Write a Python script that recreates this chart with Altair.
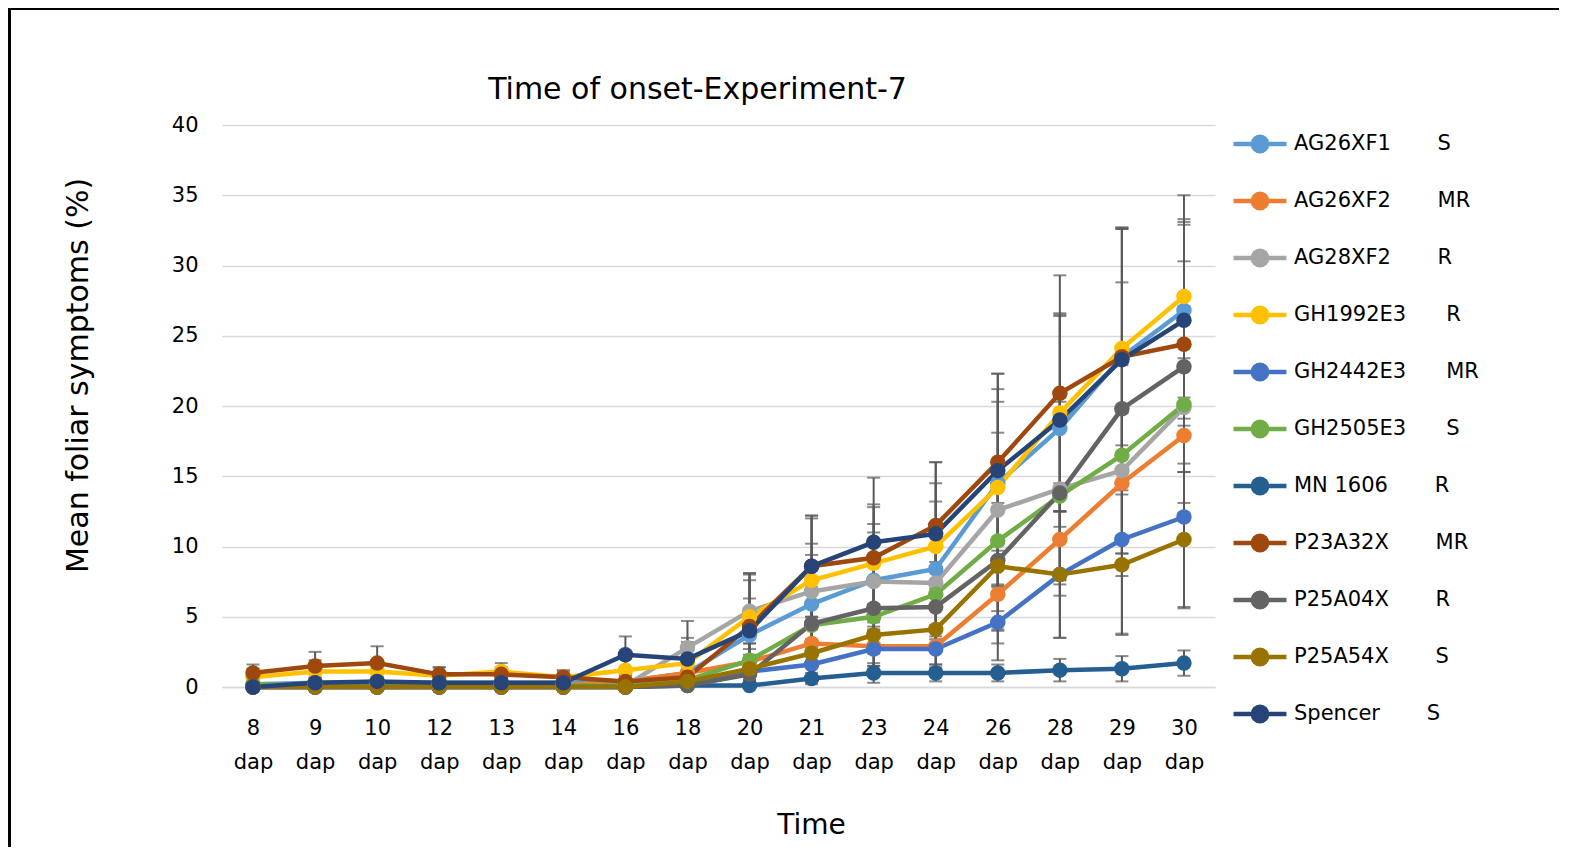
import altair as alt
import pandas as pd

times = ["8", "9", "10", "12", "13", "14", "16", "18", "20", "21", "23", "24", "26", "28", "29", "30"]
series = ["AG26XF1", "AG26XF2", "AG28XF2", "GH1992E3", "GH2442E3", "GH2505E3",
          "MN 1606", "P23A32X", "P25A04X", "P25A54X", "Spencer"]
ratings = ["S", "MR", "R", "R", "MR", "S", "R", "MR", "R", "S", "S"]
colors = ["#5B9BD5", "#ED7D31", "#A5A5A5", "#FFC000", "#4472C4", "#70AD47",
          "#255E91", "#9E480E", "#636363", "#997300", "#264478"]

ag26xf1 = [0.2, 0.3, 0.3, 0.3, 0.3, 0.3, 0.4, 1.0, 3.7, 5.9, 7.6, 8.4, 14.5, 18.4, 23.5, 26.8]
ag26xf2 = [0.1, 0.1, 0.1, 0.1, 0.1, 0.1, 0.4, 1.0, 1.8, 3.1, 2.9, 2.9, 6.6, 10.5, 14.5, 17.9]
ag28xf2 = [0.0, 0.0, 0.0, 0.0, 0.0, 0.0, 0.1, 2.8, 5.4, 6.8, 7.5, 7.4, 12.6, 14.1, 15.4, 19.9]
gh1992e3 = [0.7, 1.1, 1.1, 0.8, 1.1, 0.7, 1.2, 1.7, 5.0, 7.6, 8.8, 10.0, 14.2, 19.5, 24.1, 27.8]
gh2442e3 = [0.0, 0.0, 0.0, 0.0, 0.0, 0.0, 0.0, 0.2, 1.1, 1.6, 2.7, 2.7, 4.6, 8.0, 10.5, 12.1]
gh2505e3 = [0.2, 0.1, 0.1, 0.1, 0.1, 0.1, 0.1, 0.5, 1.9, 4.4, 5.0, 6.6, 10.4, 13.6, 16.5, 20.1]
mn1606 = [0.0, 0.0, 0.0, 0.0, 0.0, 0.0, 0.0, 0.1, 0.1, 0.6, 1.0, 1.0, 1.0, 1.2, 1.3, 1.7]
p23a32x = [1.0, 1.5, 1.7, 0.9, 0.9, 0.7, 0.4, 0.7, 4.3, 8.6, 9.2, 11.5, 16.0, 20.9, 23.5, 24.4]
p25a04x = [0.0, 0.0, 0.0, 0.0, 0.0, 0.0, 0.0, 0.1, 0.9, 4.5, 5.6, 5.7, 9.0, 13.8, 19.8, 22.8]
p25a54x = [0.0, 0.0, 0.0, 0.0, 0.0, 0.0, 0.0, 0.4, 1.3, 2.4, 3.7, 4.1, 8.6, 8.0, 8.7, 10.5]
spencer = [0.0, 0.3, 0.4, 0.3, 0.3, 0.3, 2.3, 2.0, 4.0, 8.6, 10.3, 10.9, 15.4, 19.0, 23.3, 26.1]

err_ag26xf1 = [0.3, 0.4, 0.4, 0.3, 0.3, 0.3, 0.5, 1.2, 2.6, 3.5, 4.0, 4.8, 5.8, 8.0, 9.2, 6.5]
err_ag26xf2 = [0.2, 0.2, 0.2, 0.2, 0.2, 0.2, 0.5, 1.0, 1.3, 1.6, 1.4, 1.5, 3.5, 4.0, 5.0, 5.5]
err_ag28xf2 = [0.0, 0.0, 0.0, 0.0, 0.0, 0.0, 0.2, 1.9, 2.7, 3.4, 3.5, 3.5, 5.5, 6.5, 7.5, 8.0]
err_gh1992e3 = [0.6, 0.8, 0.8, 0.6, 0.6, 0.5, 0.8, 1.5, 3.0, 4.4, 4.2, 4.5, 7.0, 7.0, 8.5, 7.2]
err_gh2442e3 = [0.0, 0.0, 0.0, 0.0, 0.0, 0.0, 0.0, 0.3, 0.9, 1.2, 1.4, 1.4, 2.7, 4.5, 6.7, 6.5]
err_gh2505e3 = [0.2, 0.1, 0.1, 0.1, 0.1, 0.1, 0.2, 0.6, 1.2, 2.2, 2.6, 3.2, 5.0, 6.0, 7.0, 7.0]
err_mn1606 = [0.0, 0.0, 0.0, 0.0, 0.0, 0.0, 0.0, 0.1, 0.2, 0.4, 0.7, 0.6, 0.6, 0.8, 0.9, 0.9]
err_p23a32x = [0.6, 1.0, 1.2, 0.5, 0.5, 0.4, 0.4, 0.8, 3.8, 3.6, 3.6, 4.5, 6.3, 8.4, 9.2, 8.5]
err_p25a04x = [0.0, 0.0, 0.0, 0.0, 0.0, 0.0, 0.0, 0.2, 0.9, 2.6, 3.2, 3.2, 5.0, 6.5, 9.0, 7.5]
err_p25a54x = [0.0, 0.0, 0.0, 0.0, 0.0, 0.0, 0.0, 0.4, 1.0, 1.7, 2.2, 2.5, 4.5, 4.5, 5.0, 4.8]
err_spencer = [0.0, 0.3, 0.3, 0.3, 0.3, 0.3, 1.3, 1.5, 3.6, 3.6, 4.6, 5.1, 6.9, 7.6, 9.3, 7.0]

means = [ag26xf1, ag26xf2, ag28xf2, gh1992e3, gh2442e3, gh2505e3, mn1606, p23a32x, p25a04x, p25a54x, spencer]
errs = [err_ag26xf1, err_ag26xf2, err_ag28xf2, err_gh1992e3, err_gh2442e3, err_gh2505e3,
        err_mn1606, err_p23a32x, err_p25a04x, err_p25a54x, err_spencer]

NB = "\u00a0"
labels = [name + NB * max(3, 14 - len(name)) + r for name, r in zip(series, ratings)]

rows = []
for i, (lab, m, e) in enumerate(zip(labels, means, errs)):
    for j, t in enumerate(times):
        rows.append({"time": t, "series": lab, "order": i, "tidx": j,
                     "mean": m[j], "lo": m[j] - e[j], "hi": m[j] + e[j], "err": e[j]})
df = pd.DataFrame(rows)

FONT = "DejaVu Sans"
W, H = 993, 562
PAD = {"left": 214, "top": 117, "right": 354, "bottom": 170}

x_enc = alt.X("time:N", sort=times, title="Time",
              scale=alt.Scale(type="point", padding=0.5),
              axis=alt.Axis(labelExpr="[datum.label, 'dap']", labelAngle=0, labelFontSize=21,
                            labelLineHeight=34, labelPadding=30, ticks=False,
                            domain=True, domainColor="#D9D9D9", domainWidth=1.5,
                            grid=False, titleFontSize=28, titleFontWeight="normal",
                            titleX=589, titleY=138, titleBaseline="middle",
                            labelColor="#000000", titleColor="#000000"))
y_scale = alt.Scale(domain=[0, 40], nice=False)

path = ("M-1,0L1,0M-0.27,0A0.27,0.27 0 1,0 0.27,0A0.27,0.27 0 1,0 -0.27,0Z")

legend_kw = dict(title=None, orient="none", legendX=1009, legendY=-10,
                 symbolType=path, symbolSize=2800, symbolStrokeWidth=4.5,
                 labelFontSize=21, labelFont=FONT, labelOffset=5,
                 rowPadding=11, labelLimit=400, labelColor="#000000")

stroke_enc = alt.Stroke("series:N", sort=labels,
                        scale=alt.Scale(domain=labels, range=colors),
                        legend=alt.Legend(**legend_kw))
fill_enc = alt.Fill("series:N", sort=labels,
                    scale=alt.Scale(domain=labels, range=colors),
                    legend=alt.Legend(**legend_kw))

base = alt.Chart(df)

err_rule = base.mark_rule(color="#595959", strokeWidth=2, clip=True).encode(
    x=x_enc,
    y=alt.Y("lo:Q", scale=y_scale),
    y2="hi:Q",
)
err_cap_hi = base.mark_tick(color="#595959", thickness=2, size=13, orient="horizontal").encode(
    x=x_enc, y=alt.Y("hi:Q", scale=y_scale))
err_cap_lo = base.mark_tick(color="#595959", thickness=2, size=13, orient="horizontal", clip=True).encode(
    x=x_enc, y=alt.Y("lo:Q", scale=y_scale))

lines = base.mark_line(strokeWidth=4.5).encode(
    x=x_enc,
    y=alt.Y("mean:Q", scale=y_scale, title="Mean foliar symptoms (%)",
            axis=alt.Axis(values=list(range(0, 41, 5)), grid=True, gridColor="#D9D9D9",
                          gridWidth=1.5, domain=False, ticks=False, labelFontSize=21,
                          labelPadding=24, titleFontSize=30, titleFontWeight="normal",
                          titleX=-144, titleY=250, titleAngle=-90, titleAlign="center",
                          titleBaseline="middle", labelColor="#000000", titleColor="#000000")),
    stroke=stroke_enc,
    detail="series:N",
    order="tidx:Q",
)

points = base.mark_circle(size=240, opacity=1, strokeWidth=0).encode(
    x=x_enc,
    y=alt.Y("mean:Q", scale=y_scale),
    fill=fill_enc,
    stroke=stroke_enc,
    order="order:Q",
)

right_edge = W + PAD["right"] - 10
bottom_edge = H + PAD["bottom"] - 10
one = alt.Chart(pd.DataFrame({"f": [0]}))
frame_top = one.mark_rule(color="#000000", strokeWidth=3, clip=False).encode(
    x=alt.value(-213), x2=alt.value(right_edge), y=alt.value(-116.5))
frame_left = one.mark_rule(color="#000000", strokeWidth=3, clip=False).encode(
    x=alt.value(-212.5), y=alt.value(-118), y2=alt.value(bottom_edge))

chart = alt.layer(frame_top, frame_left, err_rule, err_cap_hi, err_cap_lo, lines, points).properties(
    width=W, height=H,
    title=alt.TitleParams("Time of onset-Experiment-7", fontSize=30, font=FONT,
                          fontWeight="normal", anchor="middle", dx=-21, offset=-99,
                          color="#000000"),
    autosize=alt.AutoSizeParams(type="none"),
    padding=PAD,
).configure(font=FONT).configure_view(stroke=None).configure_axis(labelFont=FONT, titleFont=FONT)

chart.save("out.html", embed_options={"renderer": "svg", "actions": False})
